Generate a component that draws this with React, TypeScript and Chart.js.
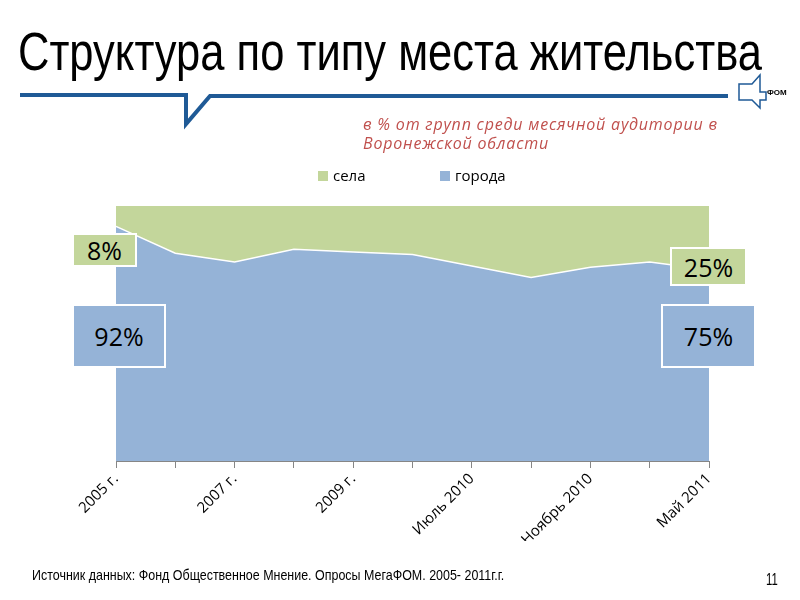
import React, { useEffect, useLayoutEffect, useRef, useState } from "react";
import { Chart, registerables } from "chart.js";

Chart.register(...registerables);

const categories = [
  "2005 г.",
  "2006 г.",
  "2007 г.",
  "2008 г.",
  "2009 г.",
  "Май 2010",
  "Июль 2010",
  "Сентябрь 2010",
  "Ноябрь 2010",
  "Март 2011",
  "Май 2011",
];
const cityValues = [92, 81.5, 78, 83, 82, 81, 76.5, 72, 76, 78, 75];
const villageValues = [8, 18.5, 22, 17, 18, 19, 23.5, 28, 24, 22, 25];
const seriesNames = ["села", "города"];

const GREEN = "#c3d69b";
const BLUE = "#95b3d7";
const LIB = "'Liberation Sans', Arial, sans-serif";
const SANS = "'Open Sans', 'DejaVu Sans', sans-serif";

function FitText(props: {
  left: number;
  top: number;
  width: number;
  fontSize: number;
  lineHeight: number;
  family: string;
  color?: string;
  children: React.ReactNode;
}) {
  const ref = useRef<HTMLSpanElement | null>(null);
  const [scale, setScale] = useState(1);
  useLayoutEffect(() => {
    if (ref.current) {
      const w = ref.current.offsetWidth;
      if (w > 0) setScale(props.width / w);
    }
  }, []);
  return (
    <span
      ref={ref}
      style={{
        position: "absolute",
        left: props.left,
        top: props.top,
        display: "inline-block",
        whiteSpace: "nowrap",
        fontFamily: props.family,
        fontSize: props.fontSize,
        lineHeight: props.lineHeight + "px",
        color: props.color || "#000",
        transformOrigin: "0 0",
        transform: `scaleX(${scale})`,
      }}
    >
      {props.children}
    </span>
  );
}

export default function App() {
  const ref = useRef<HTMLCanvasElement | null>(null);

  useEffect(() => {
    if (!ref.current) return;
    const chart = new Chart(ref.current, {
      type: "line",
      data: {
        labels: categories,
        datasets: [
          {
            label: seriesNames[1],
            data: cityValues,
            backgroundColor: BLUE,
            borderColor: "#ffffff",
            borderWidth: 1.5,
            fill: "origin",
            pointRadius: 0,
            tension: 0,
          },
          {
            label: seriesNames[0],
            data: villageValues,
            backgroundColor: GREEN,
            borderColor: GREEN,
            borderWidth: 0,
            fill: "-1",
            pointRadius: 0,
            tension: 0,
          },
        ],
      },
      options: {
        responsive: false,
        animation: false,
        layout: { padding: { left: 116, right: 91, top: 206, bottom: 59 } },
        plugins: { legend: { display: false }, tooltip: { enabled: false } },
        scales: {
          x: {
            offset: false,
            grid: {
              display: true,
              drawOnChartArea: false,
              drawTicks: true,
              tickLength: 7,
              color: "#868686",
            },
            border: { color: "#868686", width: 1 },
            ticks: {
              autoSkip: false,
              maxRotation: 45,
              minRotation: 45,
              padding: 2,
              color: "#000000",
              font: { family: SANS, size: 15 },
              callback: (_v: any, i: number) => (i % 2 === 0 ? categories[i] : ""),
            },
            afterFit: (scale: any) => {
              scale.height = 80;
            },
          },
          y: {
            stacked: true,
            min: 0,
            max: 100,
            display: false,
          },
        },
      },
    });
    return () => chart.destroy();
  }, []);

  const box = (
    left: number,
    top: number,
    w: number,
    h: number,
    bg: string,
    text: string
  ) => (
    <div
      style={{
        position: "absolute",
        left,
        top,
        width: w,
        height: h,
        background: bg,
        border: "2px solid #ffffff",
        boxSizing: "border-box",
        display: "flex",
        alignItems: "center",
        justifyContent: "center",
        fontFamily: SANS,
        fontSize: 25,
        color: "#000",
      }}
    >
      {text}
    </div>
  );

  return (
    <div
      style={{
        position: "fixed",
        left: 0,
        top: 0,
        width: 800,
        height: 600,
        background: "#ffffff",
        overflow: "hidden",
      }}
    >
      <canvas
        ref={ref}
        width={800}
        height={600}
        style={{ position: "absolute", left: 0, top: 0, width: 800, height: 600 }}
      />
      <FitText left={18} top={24} width={744} fontSize={54} lineHeight={54} family={LIB}>
        Структура по типу места жительства
      </FitText>
      <svg
        width={800}
        height={600}
        style={{ position: "absolute", left: 0, top: 0, pointerEvents: "none" }}
      >
        <polyline
          points="20,95 186,95 186,124 210,96 728,96"
          fill="none"
          stroke="#1f5a96"
          strokeWidth={4}
        />
        <polygon
          points="739,84 752,84 760,75 760,92 766,92 766,100 760,100 760,108 752,100 739,100"
          fill="#ffffff"
          stroke="#1f5a96"
          strokeWidth={1.5}
        />
        <text
          x={767}
          y={95}
          fontFamily="'Liberation Sans', sans-serif"
          fontWeight="bold"
          fontSize={8}
          fill="#000"
        >
          ФОМ
        </text>
      </svg>
      <div
        style={{
          position: "absolute",
          left: 363,
          top: 115,
          fontFamily: SANS,
          fontStyle: "italic",
          fontSize: 16,
          letterSpacing: "0.8px",
          lineHeight: "19px",
          color: "#c0504d",
          whiteSpace: "nowrap",
        }}
      >
        в % от групп среди месячной аудитории в
        <br />
        Воронежской области
      </div>
      <div style={{ position: "absolute", left: 318, top: 171, width: 10, height: 10, background: GREEN }} />
      <div
        style={{ position: "absolute", left: 333, top: 165, fontFamily: SANS, fontSize: 15, lineHeight: "20px", color: "#000" }}
      >
        {seriesNames[0]}
      </div>
      <div style={{ position: "absolute", left: 440, top: 171, width: 10, height: 10, background: BLUE }} />
      <div
        style={{ position: "absolute", left: 455, top: 165, fontFamily: SANS, fontSize: 15, lineHeight: "20px", color: "#000" }}
      >
        {seriesNames[1]}
      </div>
      {box(72, 233, 65, 34, GREEN, "8%")}
      {box(72, 304, 94, 64, BLUE, "92%")}
      {box(670, 247, 77, 39, GREEN, "25%")}
      {box(661, 304, 95, 64, BLUE, "75%")}
      <FitText left={32} top={566} width={472} fontSize={15} lineHeight={18} family={LIB}>
        Источник данных: Фонд Общественное Мнение. Опросы МегаФОМ. 2005- 2011г.г.
      </FitText>
      <FitText left={766} top={570} width={12} fontSize={17} lineHeight={20} family={LIB}>
        11
      </FitText>
    </div>
  );
}
